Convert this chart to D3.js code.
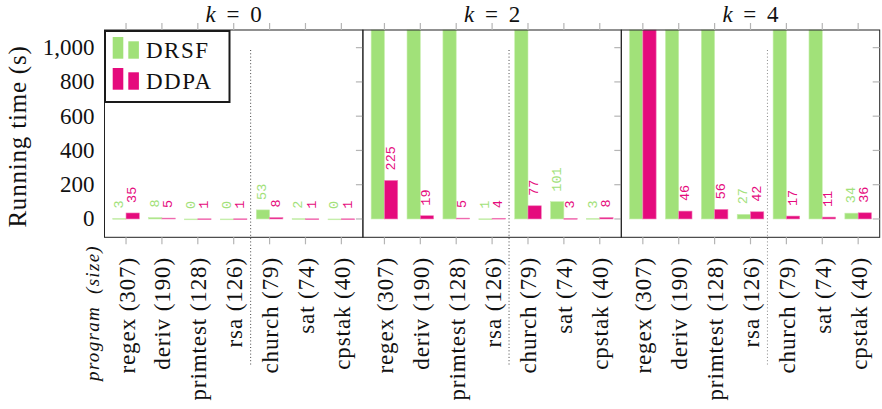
<!DOCTYPE html>
<html>
<head>
<meta charset="utf-8">
<script src="https://cdn.jsdelivr.net/npm/d3@7"></script>
<style>
  body { margin: 0; background: #fff; }
  svg { display: block; }
  text { font-family: "Liberation Serif", "DejaVu Serif", serif; fill: #111; }
</style>
</head>
<body>
<svg id="chart" width="882" height="409"></svg>
<script>
// ── data ────────────────────────────────────────────────────────────
const programs = ['regex', 'deriv', 'primtest', 'rsa', 'church', 'sat', 'cpstak'];
const sizes    = [307, 190, 128, 126, 79, 74, 40];
const kValues  = [0, 2, 4];
// running time in seconds; null = ran off the top of the axis (no label)
const drsfTimes = [
  [3, 8, 0, 0, 53, 2, 0],
  [null, null, null, 1, null, 101, 3],
  [null, null, null, 27, null, null, 34]
];
const ddpaTimes = [
  [35, 5, 1, 1, 8, 1, 1],
  [225, 19, 5, 4, 77, 3, 8],
  [null, 46, 56, 42, 17, 11, 36]
];
const yTicks = [0, 200, 400, 600, 800, 1000];
const seriesNames = ['DRSF', 'DDPA'];

// ── layout ──────────────────────────────────────────────────────────
const colors = { DRSF: '#a1e179', DDPA: '#e50b7d' };
const edges  = { DRSF: '#c9efb0', DDPA: '#f27fba' };
const plotLeft = 104.5, panelW = 258.4, plotTop = 30, plotBottom = 237.3;
const barW = 13.3;

const svg = d3.select('#chart');

const y = d3.scaleLinear().domain([-107, 1103]).range([plotBottom, plotTop]);

kValues.forEach((k, p) => {
  const x0 = plotLeft + p * panelW;
  const x = d3.scalePoint().domain(programs).range([x0, x0 + panelW]).padding(0.6);
  const g = svg.append('g').attr('class', 'panel');

  const rows = programs.map((name, i) => ({
    name,
    DRSF: drsfTimes[p][i],
    DDPA: ddpaTimes[p][i]
  }));

  // bars
  seriesNames.forEach((s, si) => {
    const bx = d => x(d.name) + (si === 0 ? -barW : 0);
    const by = d => d[s] === null ? plotTop : y(d[s]);
    g.selectAll('rect.' + s)
      .data(rows)
      .enter().append('rect')
      .attr('class', s)
      .attr('x', bx)
      .attr('width', barW)
      .attr('y', by)
      .attr('height', d => Math.max(0.8, y(0) - by(d)))
      .attr('fill', colors[s])
      .attr('stroke', edges[s])
      .attr('stroke-width', 0.6);

    // value labels (only for bars that stay inside the axis)
    g.selectAll('text.lbl' + s)
      .data(rows.filter(d => d[s] !== null))
      .enter().append('text')
      .attr('class', 'lbl' + s)
      .attr('transform', d => `translate(${x(d.name) + (si === 0 ? -barW / 2 : barW / 2)},${y(d[s]) - 10}) rotate(-90)`)
      .attr('text-anchor', 'start')
      .attr('dominant-baseline', 'central')
      .style('font-family', '"Liberation Mono", "DejaVu Sans Mono", monospace')
      .style('font-size', '13.5px')
      .style('fill', colors[s])
      .text(d => d[s]);
  });

  // dotted separator between rsa and church
  const sepX = (x('rsa') + x('church')) / 2 - 1;
  g.append('line')
    .attr('x1', sepX).attr('x2', sepX)
    .attr('y1', 50).attr('y2', 365)
    .attr('stroke', p === 2 ? '#888' : '#444')
    .attr('stroke-width', 1)
    .attr('stroke-dasharray', '1,2.3');

  // frame
  g.append('rect')
    .attr('x', x0).attr('y', plotTop)
    .attr('width', panelW).attr('height', plotBottom - plotTop)
    .attr('fill', 'none')
    .attr('stroke', '#222')
    .attr('stroke-width', 1);

  // x ticks outside top & bottom
  programs.forEach(name => {
    g.append('line').attr('x1', x(name)).attr('x2', x(name))
      .attr('y1', plotTop - 7).attr('y2', plotTop).attr('stroke', '#b5b5b5').attr('stroke-width', 1.2);
    g.append('line').attr('x1', x(name)).attr('x2', x(name))
      .attr('y1', plotBottom).attr('y2', plotBottom + 7).attr('stroke', '#b5b5b5').attr('stroke-width', 1.2);
  });

  // y ticks inside on the right
  yTicks.forEach(t => {
    g.append('line').attr('x1', x0 + panelW - 7).attr('x2', x0 + panelW)
      .attr('y1', y(t)).attr('y2', y(t)).attr('stroke', '#b5b5b5').attr('stroke-width', 1.2);
  });

  // x tick labels
  g.selectAll('text.xlbl')
    .data(programs)
    .enter().append('text')
    .attr('class', 'xlbl')
    .attr('transform', d => `translate(${x(d) + 1},257) rotate(-90)`)
    .attr('text-anchor', 'end')
    .attr('dominant-baseline', 'central')
    .style('font-size', '23px')
    .style('letter-spacing', '0.9px')
    .text((d, i) => `${d} (${sizes[i]})`);

  // panel title
  const title = g.append('text')
    .attr('x', x0 + panelW / 2)
    .attr('y', 22)
    .attr('text-anchor', 'middle')
    .style('font-size', '23px')
    .style('word-spacing', '5px');
  title.append('tspan').style('font-style', 'italic').text('k');
  title.append('tspan').text(' = ' + k);
});

// y axis labels
svg.selectAll('text.ylbl')
  .data(yTicks)
  .enter().append('text')
  .attr('class', 'ylbl')
  .attr('x', 94.5)
  .attr('y', d => y(d))
  .attr('text-anchor', 'end')
  .attr('dominant-baseline', 'central')
  .style('font-size', '23px')
  .text(d3.format(','));

svg.append('text')
  .attr('transform', 'translate(17,136.5) rotate(-90)')
  .attr('text-anchor', 'middle')
  .attr('dominant-baseline', 'central')
  .style('font-size', '25px')
  .style('letter-spacing', '0.8px')
  .text('Running time (s)');

svg.append('text')
  .attr('transform', 'translate(92.5,245) rotate(-90)')
  .attr('text-anchor', 'end')
  .attr('dominant-baseline', 'central')
  .style('font-size', '19px')
  .style('font-style', 'italic')
  .style('letter-spacing', '1.3px')
  .style('word-spacing', '6px')
  .text('program (size)');

// legend
const legend = svg.append('g');
legend.append('rect')
  .attr('x', 105).attr('y', 31)
  .attr('width', 124.5).attr('height', 71)
  .attr('fill', '#fff')
  .attr('stroke', '#1a1a1a')
  .attr('stroke-width', 2);
seriesNames.forEach((s, i) => {
  const base = 58.7 + i * 31;
  legend.append('rect').attr('x', 112.7).attr('y', base - 21.7)
    .attr('width', 10.6).attr('height', 21.7).attr('fill', colors[s]);
  legend.append('rect').attr('x', 128.3).attr('y', base - 17.4)
    .attr('width', 10.6).attr('height', 17.4).attr('fill', colors[s]);
  legend.append('text')
    .attr('x', 146).attr('y', base - 0.5)
    .style('font-size', '23px')
    .style('letter-spacing', '1.5px')
    .text(s);
});
</script>
</body>
</html>
